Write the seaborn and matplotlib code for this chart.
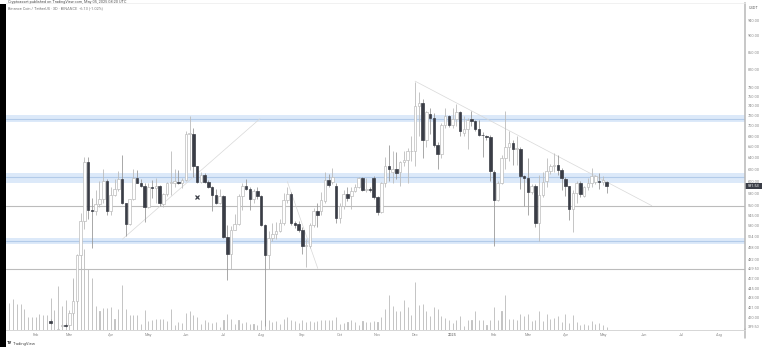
import matplotlib
matplotlib.use('Agg')
import matplotlib.pyplot as plt
from matplotlib.lines import Line2D
from matplotlib.patches import Rectangle
import numpy as np
import pandas as pd
import seaborn as sns

# volume per 3D bar, first bar is index 0
volumes = [80, 93, 76, 76, 63, 38, 38, 38, 48, 43,
           45, 96, 58, 130, 70, 88, 48, 153, 193, 188,
           243, 183, 156, 70, 56, 65, 65, 68, 31, 63,
           135, 61, 45, 43, 45, 18, 58, 25, 28, 31,
           33, 33, 25, 63, 15, 23, 20, 50, 56, 43,
           38, 16, 28, 23, 20, 22, 8, 28, 46, 31,
           18, 28, 20, 22, 18, 16, 15, 28, 30, 28,
           23, 25, 18, 33, 37, 30, 25, 20, 28, 23,
           25, 22, 25, 28, 28, 28, 28, 37, 18, 20,
           23, 28, 23, 13, 25, 23, 23, 25, 23, 38,
           63, 104, 70, 55, 55, 90, 68, 45, 142, 75,
           77, 55, 40, 68, 62, 40, 35, 30, 20, 30,
           40, 10, 28, 30, 55, 28, 28, 15, 30, 68,
           28, 55, 105, 32, 32, 28, 48, 42, 47, 25,
           28, 55, 25, 47, 33, 35, 42, 24, 47, 20,
           43, 23, 15, 17, 15, 27, 18, 20, 13, 8]

# candles start at bar 11, earlier ones sit below the visible scale
first_candle = 11
opens = [406, 392, 394, 400, 401, 401, 415, 429, 488, 537,
         632, 554, 552, 562, 570, 600, 552, 577, 587, 604,
         564, 532, 570, 605, 597, 592, 558, 590, 589, 591,
         562, 578, 597, 597, 599, 596, 602, 685, 685, 625,
         599, 611, 598, 590, 577, 564, 576, 513, 490, 524,
         532, 575, 592, 587, 570, 583, 575, 530, 488, 511,
         518, 522, 533, 569, 579, 533, 532, 524, 500, 500,
         530, 552, 552, 567, 602, 598, 592, 541, 560, 579,
         576, 584, 590, 605, 585, 586, 605, 573, 550, 596,
         626, 616, 621, 616, 632, 637, 652, 653, 739, 747,
         673, 723, 716, 664, 647, 701, 720, 701, 713, 727,
         687, 694, 714, 710, 694, 683, 680, 679, 616, 569,
         597, 640, 660, 667, 657, 657, 608, 605, 582, 592,
         533, 577, 600, 617, 626, 628, 619, 604, 591, 555,
         581, 597, 576, 590, 597, 598, 600, 598, 598]
highs = [408, 395, 398, 402, 403, 418, 458, 490, 548, 642,
         642, 572, 585, 600, 620, 603, 590, 604, 617, 646,
         565, 571, 620, 618, 603, 597, 597, 602, 605, 593,
         581, 599, 652, 621, 619, 605, 690, 720, 695, 626,
         615, 613, 602, 592, 587, 587, 577, 530, 529, 547,
         578, 596, 604, 590, 587, 590, 577, 532, 522, 534,
         535, 540, 580, 590, 582, 536, 536, 527, 510, 533,
         556, 565, 582, 615, 612, 622, 596, 564, 585, 590,
         590, 595, 607, 607, 605, 590, 608, 576, 598, 642,
         664, 652, 650, 634, 652, 658, 680, 792, 770, 755,
         730, 735, 725, 670, 705, 735, 722, 735, 745, 730,
         720, 715, 730, 712, 712, 688, 682, 682, 618, 600,
         645, 730, 690, 672, 680, 660, 610, 640, 595, 595,
         610, 615, 640, 630, 648, 645, 622, 606, 592, 585,
         600, 600, 592, 605, 622, 610, 613, 608, 600]
lows = [402, 388, 390, 399, 399, 399, 413, 427, 470, 525,
        540, 498, 546, 558, 565, 546, 546, 575, 584, 562,
        514, 530, 569, 596, 590, 535, 556, 572, 564, 559,
        558, 576, 577, 590, 595, 588, 600, 618, 607, 597,
        597, 596, 588, 552, 563, 563, 511, 455, 469, 523,
        531, 553, 585, 553, 565, 570, 529, 400, 469, 508,
        510, 520, 530, 565, 530, 526, 520, 490, 472, 497,
        527, 527, 545, 565, 590, 595, 534, 533, 555, 567,
        555, 582, 588, 583, 582, 582, 571, 545, 549, 590,
        600, 597, 603, 592, 625, 597, 635, 625, 680, 640,
        660, 685, 660, 620, 640, 695, 698, 695, 700, 680,
        680, 657, 700, 690, 680, 642, 672, 600, 500, 567,
        595, 620, 635, 627, 628, 586, 560, 545, 578, 527,
        507, 574, 590, 612, 615, 610, 585, 575, 538, 520,
        565, 574, 573, 585, 590, 595, 587, 594, 580]
closes = [404, 394, 397, 401, 400, 415, 429, 488, 537, 632,
          554, 552, 562, 570, 600, 552, 577, 587, 604, 564,
          532, 570, 605, 597, 592, 558, 590, 588, 591, 564,
          578, 597, 599, 600, 596, 602, 685, 687, 626, 599,
          611, 598, 590, 577, 564, 576, 513, 490, 524, 532,
          575, 592, 587, 570, 583, 575, 530, 488, 511, 518,
          522, 533, 569, 579, 533, 531, 524, 500, 502, 530,
          552, 545, 569, 601, 594, 606, 541, 560, 579, 572,
          584, 590, 605, 585, 586, 585, 573, 550, 596, 626,
          620, 621, 614, 632, 637, 652, 653, 739, 747, 673,
          728, 716, 664, 647, 701, 720, 701, 713, 727, 689,
          694, 712, 710, 694, 683, 682, 679, 617, 569, 597,
          640, 660, 667, 656, 658, 608, 605, 582, 592, 533,
          577, 599, 617, 626, 628, 619, 605, 591, 555, 581,
          597, 578, 590, 597, 608, 608, 598, 602, 592]

# levels: (top, middle, bottom) of each blue zone
zones = [(720.5, 713, 708), (613, 606, 597), (512, 507, 503)]
flat_levels = [560, 469]

# drawn trend lines as (bar, price) pairs
trend_bars = [[30.1, 66.7], [108, 171], [74, 82.1]]
trend_prices = [[510, 714], [793, 560], [599, 470]]
cross_bar = 50
cross_price = 574

price_ticks = [940, 900, 860, 820, 780, 760, 740, 720, 700, 680, 660, 640, 620, 600,
               580, 560, 545, 530, 514, 498, 482, 469.5, 457, 445, 433, 421, 410, 399.5]
month_labels = ['Feb', 'Mar', 'Apr', 'May', 'Jun', 'Jul', 'Aug', 'Sep', 'Oct', 'Nov',
                'Dec', '2025', 'Feb', 'Mar', 'Apr', 'May', 'Jun', 'Jul', 'Aug']
month_bars = [7, 16, 27, 37, 47, 57, 67, 78, 88, 98, 108, 118, 129, 138, 148, 158, 169, 179, 189]

sns.set_style('white')
plt.rcParams['font.family'] = ['Roboto', 'DejaVu Sans']

W, H = 764, 347
UP_EDGE = '#bcbcbc'
DOWN = '#3a3d46'
TXT = '#8a8a8a'

fig = plt.figure(figsize=(W / 100, H / 100), dpi=100, facecolor='white')
rect = [6 / W, 1 - 329.5 / H, 739 / W, 326.5 / H]

# volume pane under the candles
ax_vol = fig.add_axes(rect, zorder=1)
vol_df = pd.DataFrame({'bar': np.arange(len(volumes)), 'volume': volumes})
sns.barplot(data=vol_df, x='bar', y='volume', native_scale=True, width=0.02,
            color='#c4c4c4', edgecolor='#c4c4c4', linewidth=0.7, saturation=1, ax=ax_vol)
ax_vol.set_xlim(-0.88, 195.8)
ax_vol.set_ylim(0, 980)
ax_vol.axis('off')

ax = fig.add_axes(rect, zorder=2)
ax.patch.set_alpha(0)
ax.set_yscale('log')
ax.set_xlim(-0.88, 195.8)
ax.set_ylim(396.3, 986.5)

for top, mid, bottom in zones:
    ax.axhspan(bottom, top, color='#dce9f9', lw=0, zorder=1)
    ax.axhline(mid, color='#b3cbe9', lw=0.8, zorder=1.5)
for level in flat_levels:
    ax.axhline(level, color='#bcbcbc', lw=0.8, zorder=1.5)

for tx, ty in zip(trend_bars, trend_prices):
    sns.lineplot(x=tx, y=ty, color='#d8d8d8', lw=0.5, ax=ax, zorder=2, estimator=None, sort=False)

bars = np.arange(len(opens)) + first_candle
o, h, l, c = map(np.array, (opens, highs, lows, closes))
falling = c < o
ax.vlines(bars, l, h, colors=['#9a9a9a' if d else UP_EDGE for d in falling], lw=0.6, zorder=3)
ax.bar(bars, np.abs(c - o), bottom=np.minimum(o, c), width=0.68,
       color=[DOWN if d else 'white' for d in falling],
       edgecolor=[DOWN if d else UP_EDGE for d in falling], lw=0.5, zorder=4)
ax.plot([cross_bar], [cross_price], marker='x', ms=2.6, mew=0.9, color=DOWN, zorder=5)

ax.yaxis.tick_right()
ax.set_yticks(price_ticks)
ax.set_yticklabels([f'{t:.2f}' for t in price_ticks], fontsize=2.8, color=TXT)
ax.minorticks_off()
ax.set_xticks(month_bars)
ax.set_xticklabels(month_labels, fontsize=2.8, color=TXT)
ax.tick_params(axis='y', length=0, pad=2)
ax.tick_params(axis='x', length=0, pad=2.5)
for lab in ax.get_xticklabels():
    if lab.get_text() == '2025':
        lab.set_fontweight('bold')

for name, spine in ax.spines.items():
    spine.set_visible(name in ('bottom', 'top', 'right'))
ax.spines['bottom'].set_color('#d6d6d6')
ax.spines['bottom'].set_linewidth(0.7)
ax.spines['top'].set_color('#ececec')
ax.spines['top'].set_linewidth(0.5)
ax.spines['right'].set_color('#b8b8b8')
ax.spines['right'].set_linewidth(1.1)

# chrome outside the axes, placed in figure pixels
fig.add_artist(Rectangle((0, 0), 6 / W, 1 - 4 / H, transform=fig.transFigure, color='black', lw=0))
fig.add_artist(Line2D([745 / W, 745 / W], [1 - 338 / H, 1 - 329 / H], color='#b8b8b8', lw=1.1))
fig.add_artist(Rectangle((745 / W, 1 - 188.5 / H), 17 / W, 5.5 / H, transform=fig.transFigure, color=DOWN, lw=0))
fig.text(753.5 / W, 1 - 186 / H, '591.53', color='white', fontsize=2.8, ha='center', va='center')
fig.text(749 / W, 1 - 8 / H, 'USDT', color='#666666', fontsize=2.8, ha='left', va='center')
fig.text(8 / W, 1 - 8.5 / H, 'Binance Coin / TetherUS · 3D · BINANCE  -6.13 (-1.02%)', color='#777777',
         fontsize=2.8, ha='left', va='center')
fig.text(8 / W, 1 - 1.6 / H, 'Cryptoasset published on TradingView.com, May 05, 2025 08:20 UTC', color='#555555',
         fontsize=2.8, ha='left', va='center')
fig.text(6.5 / W, 1 - 343.5 / H, 'TV', color='#222222', fontsize=3, fontweight='bold', ha='left', va='center')
fig.text(13 / W, 1 - 343.5 / H, 'TradingView', color='#555555', fontsize=3, ha='left', va='center')

fig.savefig('out.png', dpi=100)
